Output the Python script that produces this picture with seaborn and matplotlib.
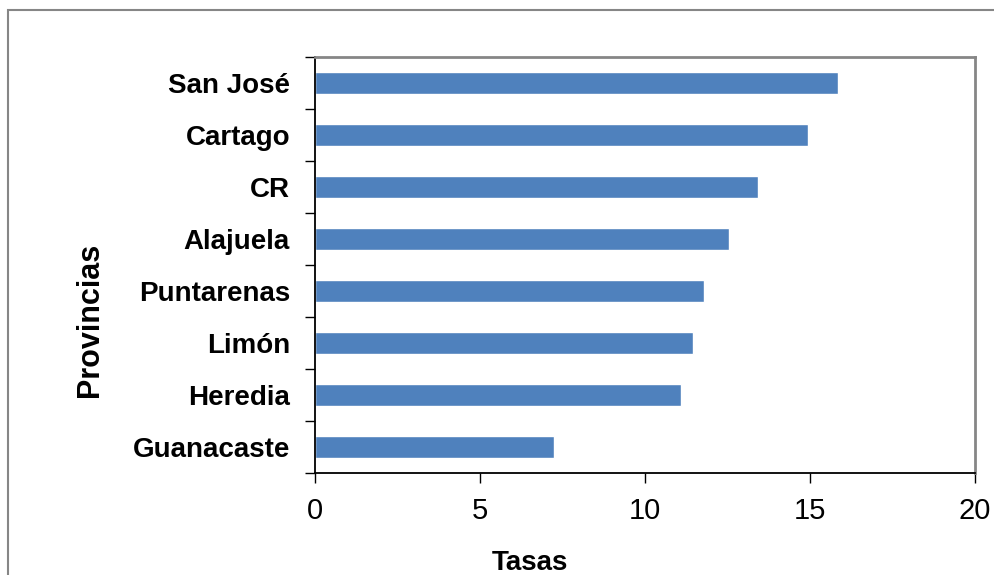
import pandas as pd
import seaborn as sns
import matplotlib.pyplot as plt
from matplotlib.patches import Rectangle

# Data
provincias = ["San José", "Cartago", "CR", "Alajuela", "Puntarenas", "Limón", "Heredia", "Guanacaste"]
tasas = [15.85, 14.94, 13.42, 12.55, 11.79, 11.45, 11.09, 7.24]

BAR_COLOR = "#4F81BD"


def main():
    df = pd.DataFrame({"Provincias": provincias, "Tasas": tasas})

    sns.set_style("white")
    plt.rcParams["font.family"] = ["Liberation Sans", "DejaVu Sans"]
    plt.rcParams["text.color"] = "black"
    plt.rcParams["axes.labelcolor"] = "black"
    plt.rcParams["xtick.color"] = "black"
    plt.rcParams["ytick.color"] = "black"

    fig = plt.figure(figsize=(9.95, 5.75), dpi=100)
    ax = fig.add_axes([0.3166, 0.1774, 0.6633, 0.7235])

    sns.barplot(data=df, x="Tasas", y="Provincias", orient="h", color=BAR_COLOR,
                width=0.42, saturation=1, ax=ax, order=provincias)

    ax.set_xlim(0, 20)
    ax.set_ylim(7.5, -0.5)
    ax.set_xticks([0, 5, 10, 15, 20])

    # y ticks at category boundaries, labels centered between them
    ax.set_yticks([i - 0.5 for i in range(len(provincias) + 1)], minor=True)
    ax.tick_params(axis="y", which="minor", length=7, width=1, direction="out", color="black", left=True)
    ax.tick_params(axis="y", which="major", length=0, pad=18, labelsize=20)
    for lab in ax.get_yticklabels():
        lab.set_fontweight("bold")
    ax.tick_params(axis="x", which="major", length=7, width=1, direction="out", color="black",
                   bottom=True, pad=10, labelsize=21)

    # spines
    for side in ["left", "bottom"]:
        ax.spines[side].set_color("black")
        ax.spines[side].set_linewidth(1.3)
    for side in ["top", "right"]:
        ax.spines[side].set_color("#868686")
        ax.spines[side].set_linewidth(2)

    ax.set_xlabel("Tasas", fontsize=20, fontweight="bold")
    ax.set_ylabel("Provincias", fontsize=22, fontweight="bold")
    ax.xaxis.set_label_coords(0.326, -0.185)
    ax.yaxis.set_label_coords(-0.318, 0.368)

    # outer chart border
    fig.patches.append(Rectangle((8 / 995, -0.1), 1.2, 1 - 10 / 575 + 0.1,
                                 transform=fig.transFigure, fill=False,
                                 edgecolor="#868686", linewidth=1.5))

    fig.savefig("out.png", dpi=100)
    plt.close(fig)


if __name__ == "__main__":
    main()
